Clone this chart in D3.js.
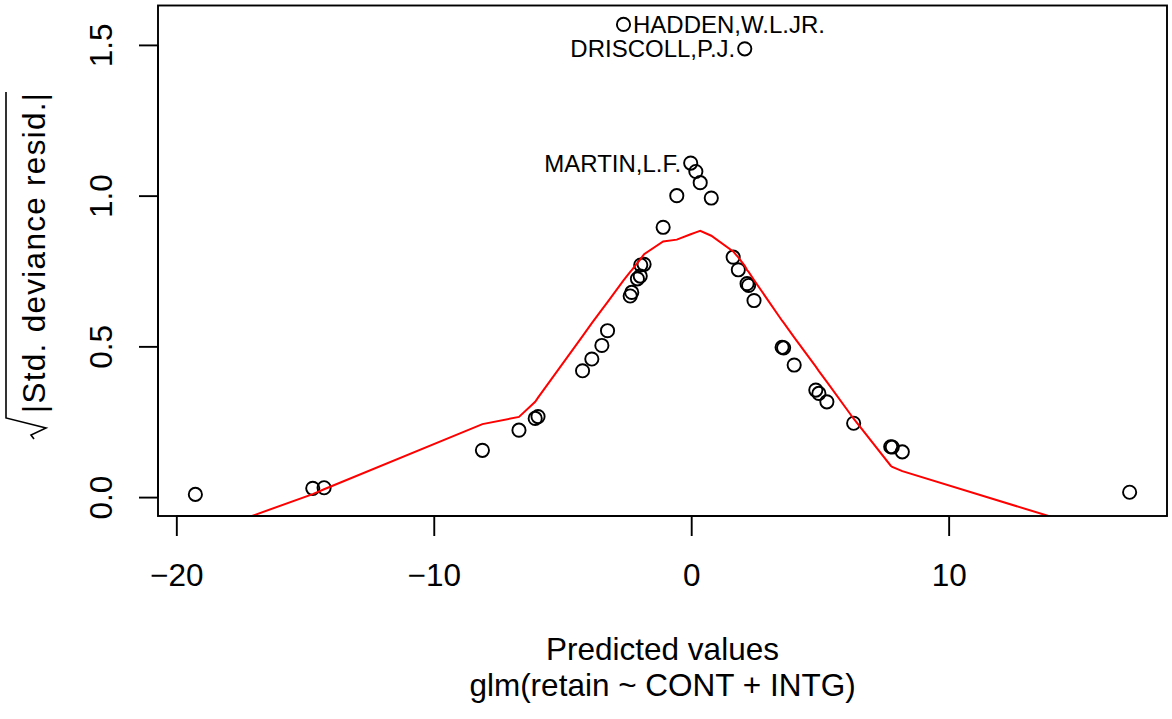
<!DOCTYPE html>
<html><head><meta charset="utf-8">
<script src="https://cdn.jsdelivr.net/npm/d3@7"></script>
<style>
body{margin:0;background:#fff}
text{font-family:"Liberation Sans", Arial, Helvetica, sans-serif;fill:#000}
</style>
</head><body>
<svg id="c" width="1172" height="719"></svg>
<script>
// ---- data ----
const predicted = [-19.26, -14.70, -14.26, -8.11, -6.69, -6.06, -5.95, -4.22, -3.86, -3.47, -3.25, -2.63, -2.37, -2.31, -2.09, -1.98, -1.96, -1.83, -1.09, -0.56, -0.02, 0.18, 0.35, 0.78, 1.63, 1.83, 2.08, 2.17, 2.23, 2.44, 3.53, 3.59, 4.00, 4.84, 4.96, 5.27, 6.31, 7.75, 7.81, 8.20, 17.03];
const sqrtResid = [0.009, 0.029, 0.031, 0.155, 0.222, 0.261, 0.267, 0.419, 0.458, 0.503, 0.552, 1.568, 0.667, 0.679, 0.724, 0.733, 0.770, 0.772, 0.895, 1.000, 1.108, 1.080, 1.043, 0.992, 0.796, 0.754, 1.487, 0.708, 0.702, 0.652, 0.497, 0.495, 0.438, 0.355, 0.344, 0.316, 0.245, 0.167, 0.166, 0.150, 0.016];
const smoothFit = [-0.130, 0.010, 0.026, 0.242, 0.266, 0.316, 0.330, 0.534, 0.577, 0.622, 0.647, 0.719, 0.747, 0.753, 0.777, 0.788, 0.790, 0.806, 0.848, 0.854, 0.872, 0.878, 0.883, 0.867, 0.815, 0.795, 0.767, 0.753, 0.747, 0.720, 0.585, 0.579, 0.530, 0.433, 0.418, 0.382, 0.260, 0.104, 0.100, 0.086, -0.145];
const labelIndex = [11, 20, 26];
const labelText = ["HADDEN,W.L.JR.", "MARTIN,L.F.", "DRISCOLL,P.J."];
const xTicks = [-20, -10, 0, 10];
const yTicks = [0, 0.5, 1.0, 1.5];
const xTitle = "Predicted values";
const subTitle = "glm(retain ~ CONT + INTG)";
const yTitle = "|Std. deviance resid.|";

// ---- layout ----
const L = 158, R = 1167, T = 5.5, B = 516;
const FS = 31.5, LFS = 24;
const svg = d3.select("#c");

const xr = d3.extent(predicted), dx = (xr[1] - xr[0]) * 0.04;
const x = d3.scaleLinear().domain([xr[0] - dx, xr[1] + dx]).range([L, R]);
const ymax = d3.max(sqrtResid), dy = ymax * 0.04;
const y = d3.scaleLinear().domain([-dy, ymax + dy]).range([B, T]);

svg.append("defs").append("clipPath").attr("id", "clip")
  .append("rect").attr("x", L).attr("y", T).attr("width", R - L).attr("height", B - T);

// points
svg.append("g").selectAll("circle").data(predicted).join("circle")
  .attr("cx", d => x(d)).attr("cy", (d, i) => y(sqrtResid[i]))
  .attr("r", 6.6).attr("fill", "none").attr("stroke", "#000").attr("stroke-width", 1.9);

// smooth line
const pts = predicted.map((d, i) => [d, smoothFit[i]]);
svg.append("path").attr("clip-path", "url(#clip)")
  .attr("d", d3.line().x(d => x(d[0])).y(d => y(d[1]))(pts))
  .attr("fill", "none").attr("stroke", "#ff0000").attr("stroke-width", 2);

// labels
labelIndex.forEach((idx, k) => {
  const px = x(predicted[idx]), py = y(sqrtResid[idx]);
  const right = predicted[idx] < (xr[0] + xr[1]) / 2;
  svg.append("text")
    .attr("x", right ? px + 9.5 : px - 9.5)
    .attr("y", py + 0.358 * LFS)
    .attr("text-anchor", right ? "start" : "end")
    .attr("font-size", LFS)
    .text(labelText[k]);
});

// box
svg.append("rect").attr("x", L).attr("y", T).attr("width", R - L).attr("height", B - T)
  .attr("fill", "none").attr("stroke", "#000").attr("stroke-width", 1.9);

// x axis
const gx = svg.append("g").attr("transform", `translate(0,${B})`)
  .call(d3.axisBottom(x).tickValues(xTicks).tickSize(20)
    .tickFormat(d => d < 0 ? "\u2212" + Math.abs(d) : String(d)));
gx.select(".domain").attr("d", `M${x(xTicks[0])},0H${x(xTicks[xTicks.length - 1])}`)
  .attr("stroke-width", 1.9);
gx.selectAll(".tick line").attr("stroke-width", 1.9);
gx.selectAll(".tick text").attr("y", 70).attr("dy", null)
  .attr("font-size", FS).attr("font-family", null).attr("fill", "#000");

// y axis
const gy = svg.append("g").attr("transform", `translate(${L},0)`)
  .call(d3.axisLeft(y).tickValues(yTicks).tickSize(19).tickFormat(d3.format(".1f")));
gy.select(".domain").attr("d", `M0,${y(yTicks[0])}V${y(yTicks[yTicks.length - 1])}`)
  .attr("stroke-width", 1.9);
gy.selectAll(".tick line").attr("stroke-width", 1.9);
gy.selectAll(".tick text").attr("transform", "rotate(-90)")
  .attr("x", 0).attr("y", -46).attr("dy", null).attr("text-anchor", "middle")
  .attr("font-size", FS).attr("font-family", null).attr("fill", "#000");

// x title + sub-title
const cx = (L + R) / 2;
svg.append("text").attr("x", cx).attr("y", 660).attr("text-anchor", "middle")
  .attr("font-size", FS).text(xTitle);
svg.append("text").attr("x", cx).attr("y", 696).attr("text-anchor", "middle")
  .attr("font-size", FS).text(subTitle);

// y title with radical sign (plotmath-like sqrt(abs(...)))
const midY = (T + B) / 2;
const gt = svg.append("g").attr("transform", `translate(45,${midY}) rotate(-90)`);
const textLen = 320, radW = 26;
const tStart = midY - 413;
gt.append("text").attr("font-size", FS).attr("text-anchor", "start")
  .attr("x", tStart).attr("y", 0)
  .attr("textLength", textLen).attr("lengthAdjust", "spacing")
  .text(yTitle);
const rs = tStart - radW;
gt.append("path")
  .attr("d", `M${rs},-11L${rs + 4},-14L${rs + 11},1L${rs + 21},-39H${tStart + textLen + 1}`)
  .attr("fill", "none").attr("stroke", "#000").attr("stroke-width", 1.6);
</script>
</body></html>
